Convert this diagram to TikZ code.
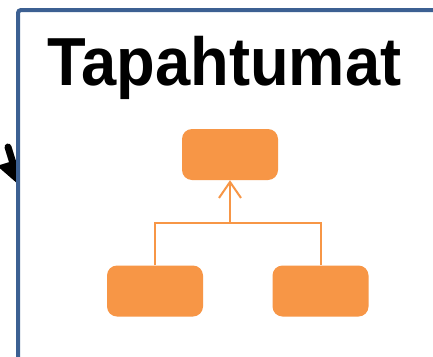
\documentclass[tikz,border=0pt]{standalone}
\usepackage{fontspec}
\setmainfont{Liberation Sans}
\usepackage{tikz}
\usetikzlibrary{arrows.meta}
\definecolor{frameblue}{RGB}{60,96,146}
\definecolor{evorange}{RGB}{247,150,70}

\begin{document}
\begin{tikzpicture}[x=1pt, y=-1pt]
    \tikzstyle{evbox} = [rectangle, rounded corners=10pt, fill=evorange, draw=none, inner sep=0pt, minimum width=96pt, minimum height=51pt]
    \tikzstyle{evline} = [draw=evorange, line width=2pt]

    \useasboundingbox (0,0) rectangle (433,356);

    % Incoming arrow
    \coordinate (in0) at (8,147);
    \coordinate (in1) at (20,186);
    \draw[line width=7pt, line cap=round, -{Triangle[length=26pt 0, width=30pt 0]}] (in0) -- (in1);

    % Frame
    \draw[frameblue, line width=4pt, rounded corners=3pt, fill=white] (18,10) rectangle (460,380);

    % Title
    \node[font=\bfseries\fontsize{68}{68}\selectfont, anchor=base, xscale=0.93] (title) at (224.5,85) {Tapahtumat};

    % Boxes
    \node[evbox] (top) at (230,154.5) {};
    \node[evbox] (b1) at (155,291) {};
    \node[evbox] (b2) at (320.5,291) {};

    % Connectors
    \coordinate (jn) at (230,223);
    \draw[evline] (b1.north) |- (jn) -| (b2.north);
    \draw[evline, -{Straight Barb[length=16pt, width=22pt]}] (jn) -- (top.south);

\end{tikzpicture}
\end{document}
